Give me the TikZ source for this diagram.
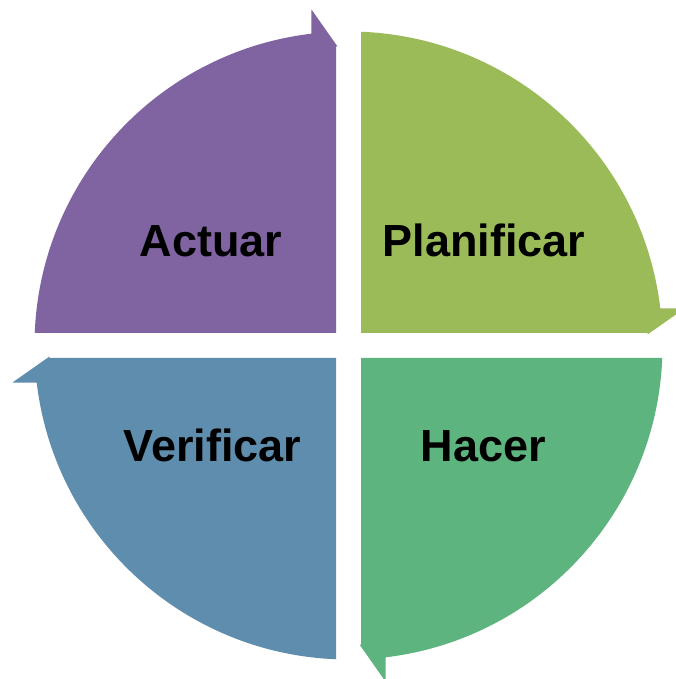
\documentclass[tikz,border=0pt]{standalone}
\usepackage{fontspec}
\setmainfont{Liberation Sans}
\definecolor{cPlan}{HTML}{9BBB59}
\definecolor{cHacer}{HTML}{5EB47E}
\definecolor{cVerif}{HTML}{5F8DAE}
\definecolor{cActuar}{HTML}{8064A2}
\tikzset{
  quadlabel/.style={anchor=base, text=black, font=\fontsize{45}{50}\selectfont\bfseries, inner sep=0pt}
}
\newcommand{\quadshape}[1]{%
  \fill[#1] (-12.5,12.5) -- (-313.75,12.5)
      arc[start angle=177.72, end angle=96.77, radius=314]
      -- (-37,336) -- (-11,299) -- (-12.5,299) -- cycle;}
\begin{document}
\begin{tikzpicture}[x=1pt,y=1pt]
  \useasboundingbox (-348.5,-333.5) rectangle (327.5,345.5);
  \clip (-348.5,-333.5) rectangle (327.5,345.5);
  \fill[white] (-348.5,-333.5) rectangle (327.5,345.5);
  % Actuar (top-left)
  \quadshape{cActuar}
  % Planificar (top-right)
  \begin{scope}[rotate=-90]\quadshape{cPlan}\end{scope}
  % Hacer (bottom-right)
  \begin{scope}[rotate=-180]\quadshape{cHacer}\end{scope}
  % Verificar (bottom-left)
  \begin{scope}[rotate=-270]\quadshape{cVerif}\end{scope}
  \node[quadlabel] (actuar) at (-137.5,88.5) {Actuar};
  \node[quadlabel] (planificar) at (135.5,88.5) {Planificar};
  \node[quadlabel] (verificar) at (-136,-115.5) {Verificar};
  \node[quadlabel] (hacer) at (135,-115.5) {Hacer};
\end{tikzpicture}
\end{document}
